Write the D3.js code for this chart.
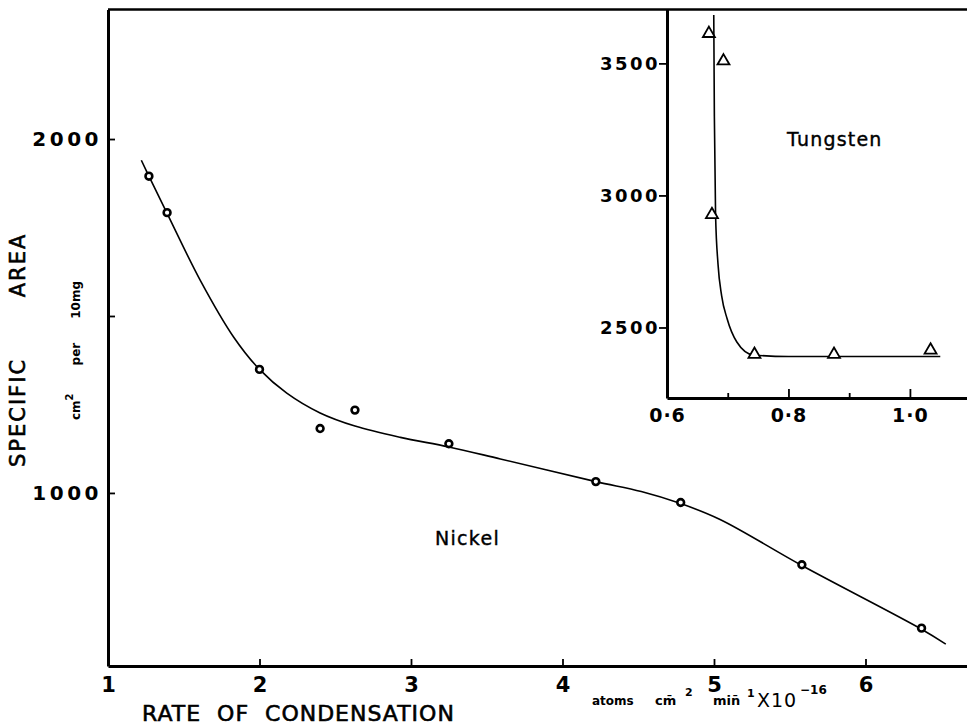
<!DOCTYPE html>
<html>
<head>
<meta charset="utf-8">
<script src="https://cdn.jsdelivr.net/npm/d3@7"></script>
<style>
  body { margin: 0; background: #fff; }
  svg text { font-family: "DejaVu Sans", sans-serif; fill: #000; }
</style>
</head>
<body>
<div class="viz"></div>
<script>
// nickel: measured points and the drawn smooth curve
const nickelRate = [1.27, 1.39, 2.0, 2.4, 2.63, 3.25, 4.22, 4.78, 5.58, 6.37]
const nickelArea = [1895, 1792, 1349, 1182, 1234, 1139, 1032, 973, 797, 618]
const nickelCurveRate = [1.22, 1.27, 1.39, 1.61, 1.83, 2.0, 2.18, 2.4, 2.63, 2.93, 3.25, 3.59, 4.22, 4.52, 4.78, 5.04, 5.58, 6.37, 6.53]
const nickelCurveArea = [1940, 1895, 1790, 1600, 1440, 1349, 1282, 1226, 1189, 1157, 1130, 1096, 1032, 1004, 970, 925, 795, 615, 573]

// tungsten inset
const tungstenRate = [0.669, 0.693, 0.674, 0.744, 0.875, 1.034]
const tungstenArea = [3613, 3509, 2927, 2398, 2398, 2414]
const tungstenCurveRate = [0.677, 0.678, 0.680, 0.684, 0.690, 0.699, 0.715, 0.742, 0.80, 1.05]
const tungstenCurveArea = [3683, 3300, 2924, 2740, 2620, 2533, 2445, 2396, 2390, 2390]

const mainXTicks = [1, 2, 3, 4, 5, 6]
const mainYTicks = [1000, 1500, 2000]
const mainYLabels = [1000, 2000]
const insetXTicks = [0.6, 0.7, 0.8, 0.9, 1.0]
const insetXLabels = { 0.6: '0·6', 0.8: '0·8', 1.0: '1·0' }
const insetYTicks = [2500, 3000, 3500]

const W = 967, H = 725
const svg = d3.select('.viz').append('svg')
  .attr('width', W).attr('height', H)

// scales
const x = d3.scaleLinear().domain([1, 6.67]).range([108, 967])
const y = d3.scaleLinear().domain([511, 2366]).range([666, 9.5])
const ix = d3.scaleLinear().domain([0.6, 1.094]).range([667, 967])
const iy = d3.scaleLinear().domain([2233, 3704]).range([398, 9.5])

function styleAxis(g, width) {
  g.select('.domain').attr('stroke', '#000').attr('stroke-width', width)
  g.selectAll('.tick line').attr('stroke', '#000').attr('stroke-width', 1.8)
}

// main axes
const xAxis = svg.append('g')
  .attr('transform', `translate(0,${y.range()[0]})`)
  .call(d3.axisBottom(x).tickValues(mainXTicks).tickSizeInner(-7).tickSizeOuter(0).tickPadding(11)
    .tickFormat(d3.format('d')))
styleAxis(xAxis, 3)
xAxis.selectAll('text').attr('font-size', 21).attr('font-weight', 'bold')

const yAxis = svg.append('g')
  .attr('transform', `translate(${x.range()[0]},0)`)
  .call(d3.axisLeft(y).tickValues(mainYTicks).tickSizeInner(-7).tickSizeOuter(0).tickPadding(6)
    .tickFormat(d => mainYLabels.includes(d) ? d : ''))
styleAxis(yAxis, 3)
yAxis.selectAll('text').attr('font-size', 20).attr('font-weight', 'bold').attr('letter-spacing', 3.5)

// top border
svg.append('line')
  .attr('x1', x.range()[0]).attr('x2', W)
  .attr('y1', y.range()[1]).attr('y2', y.range()[1])
  .attr('stroke', '#000').attr('stroke-width', 2.5)

// nickel curve + points
const line = d3.line().curve(d3.curveCatmullRom.alpha(0.5))
svg.append('path')
  .attr('d', line(nickelCurveRate.map((r, i) => [x(r), y(nickelCurveArea[i])])))
  .attr('fill', 'none').attr('stroke', '#000').attr('stroke-width', 1.6)

svg.selectAll('circle.ni')
  .data(nickelRate.map((r, i) => ({ r, a: nickelArea[i] })))
  .enter().append('circle')
  .attr('class', 'ni')
  .attr('cx', d => x(d.r)).attr('cy', d => y(d.a)).attr('r', 3.4)
  .attr('fill', '#fff').attr('stroke', '#000').attr('stroke-width', 2.6)

svg.append('text').text('Nickel')
  .attr('x', 435).attr('y', 545)
  .attr('font-size', 19).attr('letter-spacing', 1.3)
  .attr('stroke', '#000').attr('stroke-width', 0.4)

// inset axes
const ixAxis = svg.append('g')
  .attr('transform', `translate(0,${iy.range()[0]})`)
  .call(d3.axisBottom(ix).tickValues(insetXTicks).tickSizeInner(-8).tickSizeOuter(0).tickPadding(11)
    .tickFormat(d => insetXLabels[d] || ''))
styleAxis(ixAxis, 3)
ixAxis.selectAll('.tick line').attr('y2', d => insetXLabels[d] ? -9 : -5)
ixAxis.selectAll('text').attr('font-size', 19).attr('font-weight', 'bold').attr('letter-spacing', 1)

const iyAxis = svg.append('g')
  .attr('transform', `translate(${ix.range()[0]},0)`)
  .call(d3.axisLeft(iy).tickValues(insetYTicks).tickSizeInner(8).tickSizeOuter(0).tickPadding(-1)
    .tickFormat(d3.format('d')))
styleAxis(iyAxis, 3)
iyAxis.selectAll('text').attr('font-size', 18).attr('font-weight', 'bold').attr('letter-spacing', 2.5)

// tungsten curve + points
const insetLine = d3.line().curve(d3.curveMonotoneX)
svg.append('path')
  .attr('d', insetLine(tungstenCurveRate.map((r, i) => [ix(r), iy(tungstenCurveArea[i])])))
  .attr('fill', 'none').attr('stroke', '#000').attr('stroke-width', 1.6)

svg.selectAll('path.w')
  .data(tungstenRate.map((r, i) => ({ r, a: tungstenArea[i] })))
  .enter().append('path')
  .attr('class', 'w')
  .attr('d', d3.symbol(d3.symbolTriangle, 62))
  .attr('transform', d => `translate(${ix(d.r)},${iy(d.a)})`)
  .attr('fill', '#fff').attr('stroke', '#000').attr('stroke-width', 1.8)

svg.append('text').text('Tungsten')
  .attr('x', 787).attr('y', 146)
  .attr('font-size', 19).attr('letter-spacing', 1.2)
  .attr('stroke', '#000').attr('stroke-width', 0.4)

// axis titles
svg.append('text').text('RATE OF CONDENSATION')
  .attr('x', 142).attr('y', 721)
  .attr('font-size', 22).attr('letter-spacing', 1).attr('word-spacing', 8)
  .attr('stroke', '#000').attr('stroke-width', 0.6)

const units = svg.append('text').attr('y', 705).attr('font-weight', 'bold')
units.append('tspan').attr('x', 592).attr('font-size', 12).text('atoms')
units.append('tspan').attr('x', 655).attr('font-size', 13).text('cm\u0304')
units.append('tspan').attr('x', 685).attr('dy', -9).attr('font-size', 11).text('2')
units.append('tspan').attr('x', 713).attr('dy', 9).attr('font-size', 13).text('min\u0304')
units.append('tspan').attr('x', 747).attr('dy', -8).attr('font-size', 11).text('1')
units.append('tspan').attr('x', 757).attr('dy', 10).attr('font-size', 19).attr('font-weight', 'normal').attr('letter-spacing', 1).text('X10')
units.append('tspan').attr('x', 800).attr('dy', -13).attr('font-size', 12).text('\u221216')

svg.append('text').text('SPECIFIC AREA')
  .attr('transform', 'translate(25,467) rotate(-90)')
  .attr('font-size', 21).attr('letter-spacing', 2).attr('word-spacing', 52)
  .attr('stroke', '#000').attr('stroke-width', 0.6)

const yUnits = svg.append('text')
  .attr('transform', 'translate(80,420) rotate(-90)')
  .attr('font-size', 12).attr('font-weight', 'bold')
yUnits.append('tspan').text('cm')
yUnits.append('tspan').attr('dy', -7).attr('font-size', 10).text('2')
yUnits.append('tspan').attr('dx', 28).attr('dy', 7).text('per')
yUnits.append('tspan').attr('dx', 24).text('10mg')
</script>
</body>
</html>
